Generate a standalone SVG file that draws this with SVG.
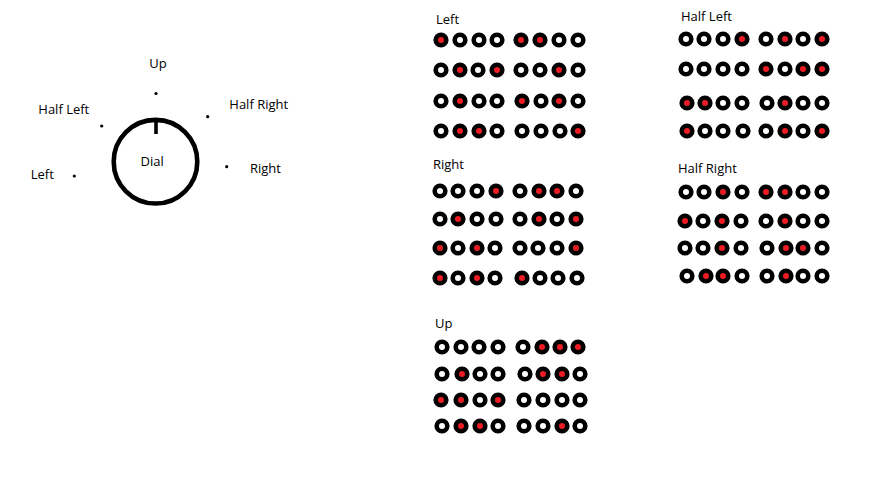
<svg xmlns="http://www.w3.org/2000/svg" xmlns:xlink="http://www.w3.org/1999/xlink" width="877" height="488" viewBox="0 0 877 488">
<style>
text{font-family:"Open Sans","Noto Sans","Liberation Sans",sans-serif;font-size:13px;fill:#000}
.dot{fill:#000}
</style>
<defs>
<circle id="w" r="5.3" fill="#fff" stroke="#000" stroke-width="4.6"/>
<circle id="r" r="5.3" fill="#ed1c24" stroke="#000" stroke-width="4.6"/>
</defs>
<rect width="877" height="488" fill="#fff"/>

<g id="dial">
<circle cx="155.5" cy="161.7" r="41.8" fill="none" stroke="#000" stroke-width="4.6"/>
<line x1="156" y1="119" x2="156" y2="134" stroke="#000" stroke-width="3.6"/>
<text x="140.5" y="166">Dial</text>
</g>
<g id="pos-up"><circle class="dot" cx="156" cy="93.5" r="1.6"/><text x="149.3" y="68">Up</text></g>
<g id="pos-halfleft"><circle class="dot" cx="101.7" cy="126" r="1.6"/><text x="38.3" y="114">Half Left</text></g>
<g id="pos-halfright"><circle class="dot" cx="207.7" cy="116.7" r="1.6"/><text x="229.3" y="109">Half Right</text></g>
<g id="pos-left"><circle class="dot" cx="74.3" cy="176" r="1.6"/><text x="30.7" y="179">Left</text></g>
<g id="pos-right"><circle class="dot" cx="226.7" cy="166.7" r="1.6"/><text x="250" y="173">Right</text></g>

<g id="grid-left">
<text x="436" y="24">Left</text>
<use href="#r" x="441" y="40"/><use href="#w" x="460" y="40"/><use href="#w" x="479" y="40"/><use href="#w" x="497" y="40"/>
<use href="#r" x="521" y="40"/><use href="#r" x="540" y="40"/><use href="#w" x="559" y="40"/><use href="#w" x="578" y="40"/>
<use href="#w" x="441" y="70"/><use href="#r" x="460" y="70"/><use href="#w" x="478" y="70"/><use href="#r" x="497" y="70"/>
<use href="#w" x="521" y="70"/><use href="#w" x="540" y="70"/><use href="#r" x="559" y="70"/><use href="#w" x="578" y="70"/>
<use href="#w" x="441" y="101"/><use href="#r" x="460" y="101"/><use href="#w" x="479" y="101"/><use href="#w" x="497" y="101"/>
<use href="#r" x="522" y="101"/><use href="#w" x="541" y="101"/><use href="#r" x="559" y="101"/><use href="#w" x="578" y="101"/>
<use href="#w" x="441" y="131"/><use href="#r" x="460" y="131"/><use href="#r" x="479" y="131"/><use href="#w" x="497" y="131"/>
<use href="#w" x="522" y="131"/><use href="#w" x="541" y="131"/><use href="#w" x="560" y="131"/><use href="#r" x="578" y="131"/>
</g>

<g id="grid-halfleft">
<text x="681" y="21">Half Left</text>
<use href="#w" x="686" y="39"/><use href="#w" x="704" y="39"/><use href="#w" x="723" y="39"/><use href="#r" x="742" y="39"/>
<use href="#w" x="766" y="39"/><use href="#r" x="785" y="39"/><use href="#w" x="803" y="39"/><use href="#r" x="822" y="39"/>
<use href="#w" x="686" y="69"/><use href="#w" x="704" y="69"/><use href="#w" x="723" y="69"/><use href="#w" x="742" y="69"/>
<use href="#r" x="766" y="69"/><use href="#w" x="785" y="69"/><use href="#r" x="803" y="69"/><use href="#r" x="822" y="69"/>
<use href="#r" x="687" y="103"/><use href="#r" x="705" y="103"/><use href="#w" x="723" y="103"/><use href="#w" x="742" y="103"/>
<use href="#w" x="767" y="103"/><use href="#r" x="785" y="103"/><use href="#w" x="803" y="103"/><use href="#w" x="822" y="103"/>
<use href="#r" x="687" y="131"/><use href="#w" x="705" y="131"/><use href="#w" x="723" y="131"/><use href="#w" x="743" y="131"/>
<use href="#w" x="766" y="131"/><use href="#r" x="785" y="131"/><use href="#w" x="803" y="131"/><use href="#r" x="822" y="131"/>
</g>

<g id="grid-right">
<text x="433" y="169">Right</text>
<use href="#w" x="440" y="191"/><use href="#w" x="458" y="191"/><use href="#w" x="477" y="191"/><use href="#r" x="496" y="191"/>
<use href="#w" x="520" y="191"/><use href="#r" x="539" y="191"/><use href="#r" x="557" y="191"/><use href="#w" x="576" y="191"/>
<use href="#w" x="440" y="219"/><use href="#r" x="458" y="219"/><use href="#w" x="477" y="219"/><use href="#w" x="496" y="219"/>
<use href="#w" x="520" y="219"/><use href="#r" x="539" y="219"/><use href="#w" x="557" y="219"/><use href="#r" x="576" y="219"/>
<use href="#r" x="440" y="248"/><use href="#w" x="458" y="248"/><use href="#r" x="477" y="248"/><use href="#w" x="495" y="248"/>
<use href="#w" x="520" y="248"/><use href="#w" x="538" y="248"/><use href="#w" x="557" y="248"/><use href="#r" x="576" y="248"/>
<use href="#r" x="440" y="278"/><use href="#w" x="458" y="278"/><use href="#r" x="477" y="278"/><use href="#w" x="495" y="278"/>
<use href="#r" x="522" y="278"/><use href="#w" x="540" y="278"/><use href="#w" x="558" y="278"/><use href="#w" x="577" y="278"/>
</g>

<g id="grid-halfright">
<text x="678" y="173">Half Right</text>
<use href="#w" x="686" y="192"/><use href="#w" x="704" y="192"/><use href="#r" x="723" y="192"/><use href="#w" x="742" y="192"/>
<use href="#r" x="766" y="192"/><use href="#r" x="785" y="192"/><use href="#w" x="803" y="192"/><use href="#w" x="822" y="192"/>
<use href="#r" x="685" y="221"/><use href="#w" x="703" y="221"/><use href="#r" x="722" y="221"/><use href="#w" x="741" y="221"/>
<use href="#w" x="766" y="221"/><use href="#r" x="785" y="221"/><use href="#w" x="803" y="221"/><use href="#w" x="822" y="221"/>
<use href="#w" x="685" y="248"/><use href="#w" x="703" y="248"/><use href="#r" x="722" y="248"/><use href="#w" x="741" y="248"/>
<use href="#w" x="767" y="248"/><use href="#r" x="786" y="248"/><use href="#r" x="803" y="248"/><use href="#w" x="822" y="248"/>
<use href="#w" x="687" y="276"/><use href="#r" x="706" y="276"/><use href="#r" x="723" y="276"/><use href="#w" x="742" y="276"/>
<use href="#w" x="767" y="276"/><use href="#r" x="786" y="276"/><use href="#w" x="803" y="276"/><use href="#w" x="822" y="276"/>
</g>

<g id="grid-up">
<text x="435" y="328">Up</text>
<use href="#w" x="442" y="347"/><use href="#w" x="461" y="347"/><use href="#w" x="479" y="347"/><use href="#w" x="498" y="347"/>
<use href="#w" x="523" y="347"/><use href="#r" x="542" y="347"/><use href="#r" x="560" y="347"/><use href="#r" x="578" y="347"/>
<use href="#w" x="442" y="374"/><use href="#r" x="462" y="374"/><use href="#w" x="480" y="374"/><use href="#w" x="498" y="374"/>
<use href="#w" x="525" y="374"/><use href="#r" x="543" y="374"/><use href="#r" x="562" y="374"/><use href="#w" x="580" y="374"/>
<use href="#r" x="441" y="400"/><use href="#r" x="461" y="400"/><use href="#w" x="480" y="400"/><use href="#r" x="498" y="400"/>
<use href="#w" x="524" y="400"/><use href="#w" x="543" y="400"/><use href="#w" x="562" y="400"/><use href="#w" x="580" y="400"/>
<use href="#w" x="442" y="426"/><use href="#r" x="461" y="426"/><use href="#r" x="480" y="426"/><use href="#w" x="498" y="426"/>
<use href="#w" x="524" y="426"/><use href="#w" x="543" y="426"/><use href="#r" x="562" y="426"/><use href="#w" x="580" y="426"/>
</g>
</svg>
